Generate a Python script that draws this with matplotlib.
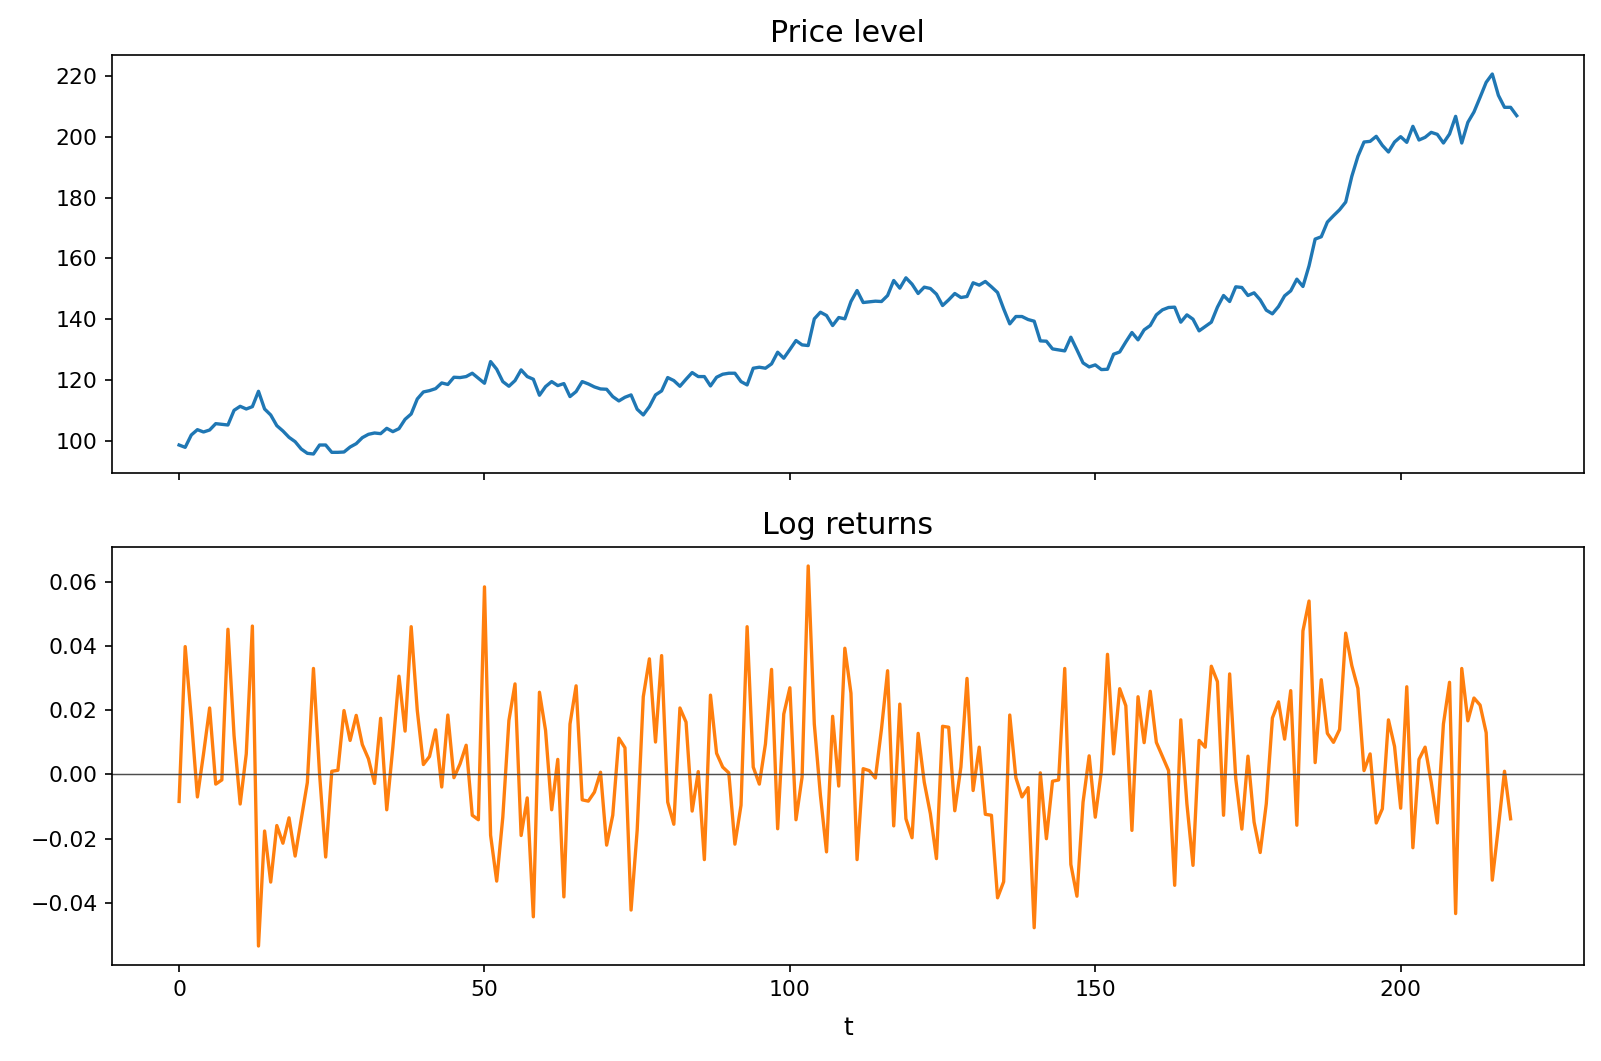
import numpy as np
import matplotlib
matplotlib.use("Agg")
import matplotlib.pyplot as plt

price = [
    98.57, 97.80, 101.87, 103.62, 102.86, 103.51, 105.60, 105.38, 105.16, 109.99,
    111.31, 110.43, 111.20, 116.25, 110.43, 108.46, 104.94, 103.19, 101.10, 99.67,
    97.25, 95.83, 95.61, 98.57, 98.57, 96.16, 96.16, 96.27, 97.91, 99.01,
    100.99, 102.09, 102.53, 102.31, 104.06, 102.97, 103.95, 107.03, 108.79, 113.73,
    116.04, 116.47, 117.13, 119.00, 118.50, 120.88, 120.77, 121.10, 122.20, 120.55,
    118.90, 126.04, 123.52, 119.45, 117.91, 119.78, 123.30, 121.10, 120.22, 114.95,
    117.80, 119.45, 118.13, 118.79, 114.51, 116.16, 119.45, 118.68, 117.69, 117.03,
    116.92, 114.51, 113.08, 114.29, 115.06, 110.34, 108.47, 111.21, 115.06, 116.38,
    120.77, 119.78, 117.91, 120.22, 122.42, 121.10, 121.10, 118.02, 120.88, 121.87,
    122.20, 122.20, 119.45, 118.35, 123.85, 124.18, 123.85, 125.28, 129.12, 127.14,
    130.00, 132.96, 131.53, 131.31, 140.10, 142.29, 141.20, 137.90, 140.54, 140.10,
    145.81, 149.43, 145.48, 145.70, 145.92, 145.81, 147.79, 152.73, 150.21, 153.61,
    151.53, 148.45, 150.54, 150.10, 148.23, 144.49, 146.36, 148.45, 147.13, 147.46,
    151.97, 151.20, 152.41, 150.65, 148.78, 143.40, 138.45, 140.87, 140.87, 139.88,
    139.33, 132.85, 132.74, 130.21, 129.88, 129.55, 134.05, 129.88, 125.60, 124.28,
    124.94, 123.40, 123.51, 128.46, 129.20, 132.50, 135.60, 133.19, 136.48, 137.91,
    141.42, 143.07, 143.84, 143.95, 139.01, 141.42, 139.99, 136.15, 137.58, 139.01,
    143.95, 147.79, 145.81, 150.65, 150.43, 147.79, 148.67, 146.36, 142.96, 141.75,
    144.16, 147.68, 149.32, 153.17, 150.76, 157.57, 166.36, 167.13, 171.96, 174.05,
    176.02, 178.55, 187.01, 193.60, 198.32, 198.54, 200.19, 197.22, 195.03, 198.32,
    200.08, 198.21, 203.48, 198.98, 199.86, 201.50, 200.84, 197.99, 200.95, 206.77,
    197.99, 204.79, 208.20, 213.03, 217.97, 220.71, 213.69, 209.74, 209.74, 206.99,
]

log_returns = [
    -0.0084, 0.0398, 0.0175, -0.0070, 0.0064, 0.0207, -0.0030, -0.0017, 0.0452, 0.0121,
    -0.0092, 0.0064, 0.0462, -0.0534, -0.0176, -0.0335, -0.0159, -0.0214, -0.0135, -0.0254,
    -0.0140, -0.0025, 0.0330, 0.0002, -0.0257, 0.0010, 0.0013, 0.0199, 0.0106, 0.0184,
    0.0093, 0.0049, -0.0028, 0.0175, -0.0110, 0.0085, 0.0306, 0.0135, 0.0460, 0.0199,
    0.0031, 0.0056, 0.0139, -0.0039, 0.0185, -0.0010, 0.0033, 0.0091, -0.0127, -0.0141,
    0.0584, -0.0189, -0.0332, -0.0133, 0.0168, 0.0282, -0.0190, -0.0073, -0.0443, 0.0256,
    0.0137, -0.0110, 0.0047, -0.0381, 0.0157, 0.0276, -0.0079, -0.0083, -0.0055, 0.0007,
    -0.0220, -0.0127, 0.0113, 0.0083, -0.0422, -0.0174, 0.0242, 0.0360, 0.0101, 0.0370,
    -0.0086, -0.0155, 0.0207, 0.0163, -0.0114, 0.0009, -0.0265, 0.0247, 0.0066, 0.0023,
    0.0005, -0.0217, -0.0096, 0.0460, 0.0023, -0.0030, 0.0095, 0.0327, -0.0169, 0.0188,
    0.0270, -0.0141, -0.0008, 0.0649, 0.0157, -0.0065, -0.0241, 0.0181, -0.0036, 0.0393,
    0.0253, -0.0265, 0.0018, 0.0012, -0.0011, 0.0142, 0.0323, -0.0160, 0.0219, -0.0138,
    -0.0197, 0.0128, -0.0024, -0.0122, -0.0262, 0.0150, 0.0147, -0.0113, 0.0023, 0.0299,
    -0.0050, 0.0085, -0.0124, -0.0127, -0.0384, -0.0334, 0.0185, -0.0010, -0.0070, -0.0041,
    -0.0477, 0.0005, -0.0200, -0.0021, -0.0017, 0.0330, -0.0280, -0.0379, -0.0086, 0.0058,
    -0.0133, 0.0012, 0.0374, 0.0064, 0.0267, 0.0214, -0.0174, 0.0242, 0.0099, 0.0259,
    0.0100, 0.0056, 0.0012, -0.0345, 0.0170, -0.0091, -0.0283, 0.0106, 0.0085, 0.0337,
    0.0289, -0.0127, 0.0313, -0.0013, -0.0170, 0.0057, -0.0148, -0.0243, -0.0091, 0.0176,
    0.0226, 0.0110, 0.0261, -0.0158, 0.0447, 0.0540, 0.0037, 0.0295, 0.0128, 0.0100,
    0.0140, 0.0440, 0.0339, 0.0268, 0.0012, 0.0064, -0.0151, -0.0107, 0.0170, 0.0087,
    -0.0105, 0.0273, -0.0228, 0.0047, 0.0085, -0.0024, -0.0151, 0.0157, 0.0287, -0.0433,
    0.0330, 0.0167, 0.0238, 0.0216, 0.0130, -0.0329, -0.0164, 0.0010, -0.0138,
]

t_price = np.arange(len(price))
t_ret = np.arange(len(log_returns))

W, H, DPI = 1601, 1061, 150
fig, (ax1, ax2) = plt.subplots(2, 1, sharex=True, figsize=(W / DPI, H / DPI), dpi=DPI)
fig.subplots_adjust(left=112.2 / W, right=1583.6 / W, top=1 - 55.0 / H,
                    bottom=1 - 965.0 / H, hspace=74.0 / 418.0)

ax1.plot(t_price, price, color="C0", lw=1.6)
ax1.set_title("Price level", fontsize=14.4)

ax2.plot(t_ret, log_returns, color="C1", lw=1.6)
ax2.axhline(0, color="0.3", lw=0.7)
ax2.set_title("Log returns", fontsize=14.4)
ax2.set_xlabel("t", fontsize=12, labelpad=8)

for ax in (ax1, ax2):
    ax.tick_params(labelsize=10.5)

fig.savefig("out.png", dpi=DPI)
